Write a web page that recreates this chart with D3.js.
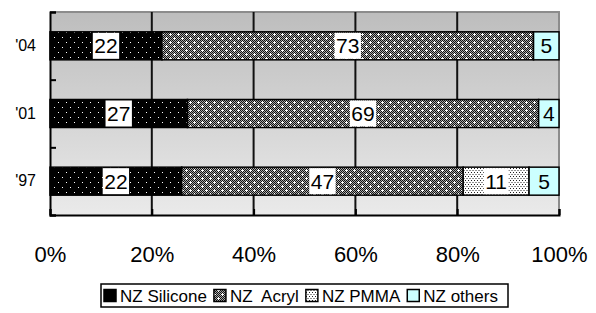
<!DOCTYPE html>
<html>
<head>
<meta charset="utf-8">
<script src="https://cdn.jsdelivr.net/npm/d3@7"></script>
<style>
  body { margin: 0; background: #fff; }
  svg { display: block; font-family: Arial, "Liberation Sans", sans-serif; }
</style>
</head>
<body>
<div id="chart"></div>
<script>
// data (counts per year, bars are normalised to 100%)
const years = ["'04", "'01", "'97"];
const silicone = [22, 27, 22];
const acryl = [73, 69, 47];
const pmma = [0, 0, 11];
const others = [5, 4, 5];
const seriesKeys = ["silicone", "acryl", "pmma", "others"];
const seriesNames = ["NZ Silicone", "NZ  Acryl", "NZ PMMA", "NZ others"];
const xTicks = [0, 0.2, 0.4, 0.6, 0.8, 1];

const width = 596, height = 313;
const svg = d3.select("#chart").append("svg")
  .attr("width", width)
  .attr("height", height);

const defs = svg.append("defs");

// background gradient of the plot area
const grad = defs.append("linearGradient")
  .attr("id", "bg").attr("x1", 0).attr("y1", 0).attr("x2", 0).attr("y2", 1);
grad.append("stop").attr("offset", "0%").attr("stop-color", "#bdbdbd");
grad.append("stop").attr("offset", "100%").attr("stop-color", "#eaeaea");

// fill patterns
const pSil = defs.append("pattern").attr("id", "p-silicone")
  .attr("patternUnits", "userSpaceOnUse").attr("width", 8).attr("height", 10);
pSil.append("rect").attr("width", 8).attr("height", 10).attr("fill", "#000");
pSil.append("rect").attr("x", 2).attr("y", 2).attr("width", 1).attr("height", 1).attr("fill", "#fff");
pSil.append("rect").attr("x", 6).attr("y", 7).attr("width", 1).attr("height", 1).attr("fill", "#fff");

const pChk = defs.append("pattern").attr("id", "p-checker")
  .attr("patternUnits", "userSpaceOnUse").attr("width", 2).attr("height", 2);
pChk.append("rect").attr("width", 2).attr("height", 2).attr("fill", "#a8a8a8");
pChk.append("rect").attr("width", 1).attr("height", 1).attr("fill", "#111");
pChk.append("rect").attr("x", 1).attr("y", 1).attr("width", 1).attr("height", 1).attr("fill", "#111");

const pAcr = defs.append("pattern").attr("id", "p-acryl")
  .attr("patternUnits", "userSpaceOnUse").attr("width", 8).attr("height", 8);
pAcr.append("rect").attr("width", 8).attr("height", 8).attr("fill", "url(#p-checker)");
[[2, 2], [6, 6]].forEach(([cx, cy]) => {
  pAcr.append("rect").attr("x", cx - 1).attr("y", cy).attr("width", 3).attr("height", 1).attr("fill", "#fff");
  pAcr.append("rect").attr("x", cx).attr("y", cy - 1).attr("width", 1).attr("height", 3).attr("fill", "#fff");
});

const pPm = defs.append("pattern").attr("id", "p-pmma")
  .attr("patternUnits", "userSpaceOnUse").attr("width", 3).attr("height", 4);
pPm.append("rect").attr("width", 3).attr("height", 4).attr("fill", "#fff");
pPm.append("rect").attr("x", 0).attr("y", 0).attr("width", 1).attr("height", 1).attr("fill", "#222");
pPm.append("rect").attr("x", 1.5).attr("y", 2).attr("width", 1).attr("height", 1).attr("fill", "#222");

const fills = {
  silicone: "url(#p-silicone)",
  acryl: "url(#p-acryl)",
  pmma: "url(#p-pmma)",
  others: "#ccffff"
};

// scales
const plotLeft = 50, plotRight = 559, plotTop = 12, plotBottom = 215;
const x = d3.scaleLinear().domain([0, 1]).range([plotLeft, plotRight]);
const y = d3.scaleBand().domain(years).range([plotTop, plotBottom])
  .paddingInner(0.586).paddingOuter(0.293);
const yEdge = d3.scaleLinear().domain([0, years.length]).range([plotTop, plotBottom]);

// stacked (100%) data
const rows = years.map((yr, i) => ({
  year: yr, silicone: silicone[i], acryl: acryl[i], pmma: pmma[i], others: others[i]
}));
const stacked = d3.stack().keys(seriesKeys).offset(d3.stackOffsetExpand)(rows);

// plot background
svg.append("rect")
  .attr("x", plotLeft).attr("y", plotTop)
  .attr("width", plotRight - plotLeft).attr("height", plotBottom - plotTop)
  .attr("fill", "url(#bg)");
svg.append("path")
  .attr("d", `M${plotLeft},${plotTop}H${plotRight}V${plotBottom}`)
  .attr("fill", "none").attr("stroke", "#8c8c8c").attr("stroke-width", 2);

// vertical gridlines
svg.append("g").selectAll("line")
  .data(xTicks.slice(1, -1))
  .join("line")
  .attr("x1", d => x(d)).attr("x2", d => x(d))
  .attr("y1", plotTop).attr("y2", plotBottom)
  .attr("stroke", "#111").attr("stroke-width", 2);

// bars
const layer = svg.append("g").selectAll("g")
  .data(stacked)
  .join("g")
  .attr("fill", d => fills[d.key]);

layer.selectAll("rect")
  .data(d => d.filter(s => s[1] - s[0] > 0))
  .join("rect")
  .attr("x", d => x(d[0]))
  .attr("y", d => y(d.data.year))
  .attr("width", d => x(d[1]) - x(d[0]))
  .attr("height", y.bandwidth())
  .attr("stroke", "#000")
  .attr("stroke-width", 1.5);

// value labels
const labels = [];
stacked.forEach(s => s.forEach(d => {
  const v = d.data[s.key];
  if (v > 0) labels.push({ key: s.key, value: v, year: d.data.year, mid: (d[0] + d[1]) / 2 });
}));

const lab = svg.append("g").selectAll("g")
  .data(labels)
  .join("g")
  .attr("transform", d => `translate(${x(d.mid)},${y(d.year) + y.bandwidth() / 2})`);

lab.append("text")
  .attr("text-anchor", "middle")
  .attr("dy", "0.36em")
  .attr("font-size", 21)
  .attr("fill", "#000")
  .text(d => d.value);

lab.each(function(d) {
  if (d.key === "others") return;
  const g = d3.select(this);
  const w = g.select("text").node().getComputedTextLength() + 3;
  g.insert("rect", "text")
    .attr("x", -w / 2)
    .attr("y", -y.bandwidth() / 2 + 1)
    .attr("width", w)
    .attr("height", y.bandwidth() - 2)
    .attr("fill", "#fff");
});

// y axis: band-edge ticks and year labels
svg.append("g")
  .attr("transform", `translate(${plotLeft},0)`)
  .call(d3.axisLeft(yEdge).tickValues(d3.range(years.length + 1)).tickSize(-6).tickFormat(""))
  .call(g => g.select(".domain").attr("stroke", "#000").attr("stroke-width", 2))
  .call(g => g.selectAll(".tick line").attr("stroke", "#000").attr("stroke-width", 2));

svg.append("g")
  .attr("transform", `translate(${plotLeft - 14},0)`)
  .call(d3.axisLeft(y).tickSize(0).tickPadding(0))
  .call(g => g.select(".domain").remove())
  .call(g => g.selectAll("text")
    .attr("font-size", 16)
    .attr("font-family", "Arial, 'Liberation Sans', sans-serif")
    .attr("fill", "#000"));

// x axis
svg.append("g")
  .attr("transform", `translate(0,${plotBottom})`)
  .call(d3.axisBottom(x).tickValues(xTicks).tickFormat(d3.format(".0%")).tickSize(-6).tickPadding(31))
  .call(g => g.select(".domain").attr("stroke", "#000").attr("stroke-width", 2))
  .call(g => g.selectAll(".tick line").attr("stroke", "#000").attr("stroke-width", 2))
  .call(g => g.selectAll("text")
    .attr("font-size", 22)
    .attr("font-family", "Arial, 'Liberation Sans', sans-serif")
    .attr("fill", "#000"));

// legend
const legend = svg.append("g");
legend.append("rect")
  .attr("x", 101).attr("y", 284)
  .attr("width", 407).attr("height", 23)
  .attr("fill", "#fff").attr("stroke", "#000").attr("stroke-width", 1.5);

let lx = 104;
seriesKeys.forEach((k, i) => {
  legend.append("rect")
    .attr("x", lx).attr("y", 289.5)
    .attr("width", 12).attr("height", 12)
    .attr("fill", k === "silicone" ? "#000" : fills[k])
    .attr("stroke", "#000").attr("stroke-width", 1.5);
  const t = legend.append("text")
    .attr("x", lx + 16).attr("y", 296)
    .attr("dy", "0.36em")
    .attr("font-size", 17)
    .attr("fill", "#000")
    .style("white-space", "pre")
    .text(seriesNames[i]);
  lx += 16 + t.node().getComputedTextLength() + 7;
});
</script>
</body>
</html>
